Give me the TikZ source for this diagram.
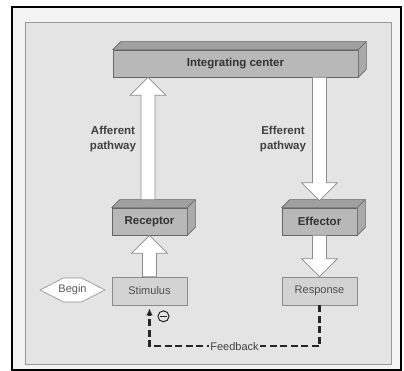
\documentclass[tikz,border=0pt]{standalone}
\usepackage{fontspec}
\setmainfont{Liberation Sans}
\usetikzlibrary{positioning,calc,arrows.meta}

\definecolor{panelgray}{HTML}{E4E4E4}
\definecolor{margingray}{HTML}{F3F3F3}
\definecolor{frontgray}{HTML}{B8B8B8}
\definecolor{topgray}{HTML}{A0A0A0}
\definecolor{sidegray}{HTML}{AAAAAA}
\definecolor{flatgray}{HTML}{D3D3D3}

\begin{document}
\begin{tikzpicture}[
    x=1pt, y=-1pt,
    % Common Styles
    panel/.style={
        fill=panelgray,
        draw=black!40,
        line width=0.7pt
    },
    solidbox/.style={
        rectangle,
        fill=frontgray,
        draw=black!60,
        line width=0.6pt,
        inner sep=0pt,
        minimum height=27pt,
        font=\bfseries\fontsize{11.5}{13}\selectfont,
        text=black!80
    },
    topface/.style={
        fill=topgray,
        draw=black!60,
        line width=0.6pt,
        line join=round
    },
    sideface/.style={
        fill=sidegray,
        draw=black!60,
        line width=0.6pt,
        line join=round
    },
    flatbox/.style={
        rectangle,
        fill=flatgray,
        draw=black!45,
        line width=0.6pt,
        minimum width=75pt,
        minimum height=28pt,
        font=\fontsize{11}{13}\selectfont,
        text=black!70
    },
    startbox/.style={
        fill=white,
        draw=black!45,
        line width=0.6pt,
        line join=round
    },
    blockarrow/.style={
        fill=white,
        draw=black!45,
        line width=0.7pt,
        line join=miter
    },
    feedback/.style={
        black!85,
        line width=2.3pt,
        dash pattern=on 7pt off 3.5pt
    },
    label_text/.style={
        font=\bfseries\fontsize{11.5}{15}\selectfont,
        text=black!75,
        align=center
    },
    minus_sign/.style={
        circle,
        draw=black!85,
        line width=1pt,
        inner sep=0pt,
        minimum size=11pt
    }
]

    \useasboundingbox (0,0) rectangle (404,371);

    % ================= FRAME =================
    \fill[white] (0,0) rectangle (404,371);
    \fill[margingray] (12,7) rectangle (401,370);
    \draw[black, line width=1.6pt] (12,7) rectangle (401,370);
    \draw[panel] (25,22) rectangle (391,364);

    % ================= BOXES =================
    % Solid (3D) boxes
    \node[solidbox, minimum width=245pt] (integ) at (235.5,63.5) {Integrating center};
    \node[solidbox, minimum width=75pt] (recep) at (149.5,221.5) {Receptor};
    \node[solidbox, minimum width=75pt] (effec) at (319.5,221.5) {Effector};

    % Depth faces
    \foreach \b in {integ, recep, effec} {
        \draw[topface] (\b.north west) -- ++(8,-8) -- ($(\b.north east)+(8,-8)$)
            -- (\b.north east) -- cycle;
        \draw[sideface] (\b.north east) -- ++(8,-8) -- ($(\b.south east)+(8,-8)$)
            -- (\b.south east) -- cycle;
    }

    % Flat boxes
    \node[flatbox] (stim) at (149.5,291) {Stimulus};
    \node[flatbox] (resp) at (319.5,291) {Response};

    % Start marker
    \coordinate (begin_c) at (72.5,290);
    \draw[startbox] ($(begin_c)+(-32.5,0)$) -- ++(23.5,-12) -- ++(18,0)
        -- ++(23.5,12) -- ++(-23.5,12) -- ++(-18,0) -- cycle;
    \node[font=\fontsize{11}{13}\selectfont, text=black!65] (begin) at (begin_c) {Begin};

    % ================= ARROWS =================
    \coordinate (aff_s) at ($(recep.north)+(-1.5,-8)$);
    \coordinate (aff_e) at (aff_s |- integ.south);
    \coordinate (eff_e) at ($(effec.north)+(0,-7)$);
    \coordinate (eff_s) at (eff_e |- integ.south);

    % head base is 18pt back from the tip
    \foreach \s/\e in {aff_s/aff_e, eff_s/eff_e, stim.north/recep.south, effec.south/resp.north} {
        \draw[blockarrow] let \p1=(\s), \p2=(\e), \n1={ifthenelse(\y2>\y1,-18,18)} in
            ({\x1-7pt},\y1) -- ({\x1-7pt},{\y2+\n1}) -- ({\x1-18pt},{\y2+\n1})
            -- (\x1,\y2) -- ({\x1+18pt},{\y2+\n1}) -- ({\x1+7pt},{\y2+\n1})
            -- ({\x1+7pt},\y1) -- cycle;
    }

    % Labels
    \node[label_text] (afflab) at (113,139) {Afferent\\pathway};
    \node[label_text] (efflab) at (283,139) {Efferent\\pathway};

    % ================= FEEDBACK =================
    \coordinate (fb_r) at ($(resp.south)+(0,41)$);
    \draw[feedback, -{Latex[length=7pt, width=6.5pt]}, shorten >=3pt]
        (resp.south) -- (fb_r) -| node[pos=0.25, fill=panelgray, inner sep=1.5pt,
        solid, font=\fontsize{11}{13}\selectfont, text=black!75] (fblab) {Feedback}
        (stim.south);

    \node[minus_sign] (neg) at ($(stim.south)+(14,11)$) {};
    \draw[line width=1.1pt, black!85] ($(neg.west)+(2.5,0)$) -- ($(neg.east)+(-2.5,0)$);

\end{tikzpicture}
\end{document}
